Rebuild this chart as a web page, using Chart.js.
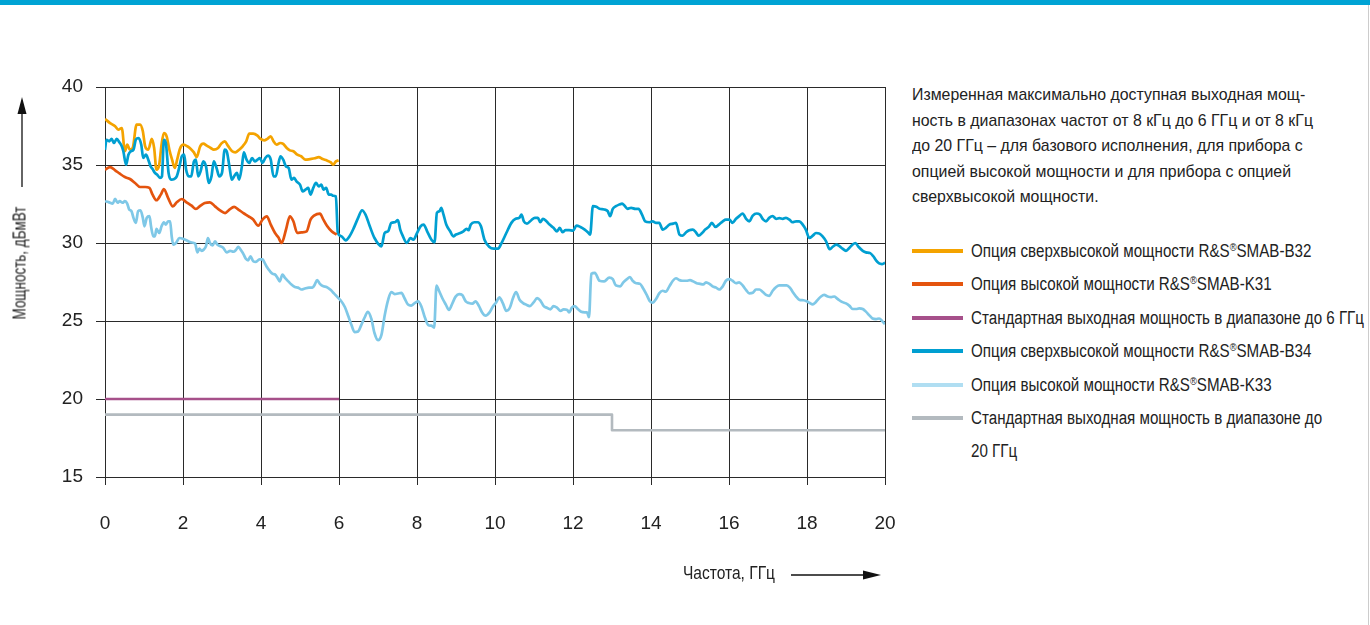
<!DOCTYPE html>
<html lang="ru">
<head>
<meta charset="utf-8">
<script src="https://cdn.jsdelivr.net/npm/chart.js@4.4.1/dist/chart.umd.min.js"></script>
<style>
  html, body { margin: 0; padding: 0; background: #fff; }
  body { width: 1370px; height: 625px; position: relative; overflow: hidden;
         font-family: "Liberation Sans", Arial, sans-serif; color: #222; }
  #topbar { position: absolute; left: 0; top: 0; width: 1370px; height: 5px; background: #00a3d4; }
  #edge { position: absolute; left: 1368px; top: 5px; width: 1px; height: 620px; background: #ccc; }
  #chartWrap { position: absolute; left: 0; top: 0; width: 900px; height: 625px; }
  #note { position: absolute; left: 912px; top: 82px; font-size: 17px; line-height: 25.5px; white-space: nowrap;
          transform-origin: 0 0; }
  #legend { position: absolute; left: 912px; top: 236px; font-size: 18px; }
  #legend .item { position: relative; height: 33.4px; line-height: 30px; white-space: nowrap; }
  #legend .sw { position: absolute; left: 0; top: 13px; width: 51px; height: 4px; }
  #legend .txt { position: absolute; left: 59px; top: 0; transform-origin: 0 50%; }
  #legend sup { font-size: 11px; vertical-align: 6px; line-height: 0; }
  .ytitle { position: absolute; left: 20px; top: 263px; font-size: 17.5px; white-space: nowrap; }
  .xtitle { position: absolute; left: 683px; top: 563px; font-size: 17.5px; white-space: nowrap; transform-origin: 0 0; }
  svg.arr { position: absolute; left: 0; top: 0; }
</style>
</head>
<body>
<div id="topbar"></div>
<div id="edge"></div>
<div id="chartWrap"><canvas id="powerChart" width="900" height="625"></canvas></div>

<div class="ytitle" id="ytitle">Мощность, дБмВт</div>
<div class="xtitle" id="xtitle">Частота, ГГц</div>
<svg class="arr" width="900" height="625">
  <line x1="22" y1="112" x2="22" y2="187" stroke="#111" stroke-width="1.3"/>
  <polygon points="22,97 17.5,114 26.5,114" fill="#111"/>
  <line x1="791" y1="575" x2="866" y2="575" stroke="#111" stroke-width="1.3"/>
  <polygon points="881,575 863,570.5 863,579.5" fill="#111"/>
</svg>

<div id="note">Измеренная максимально доступная выходная мощ-<br>ность в диапазонах частот от 8 кГц до 6 ГГц и от 8 кГц<br>до 20 ГГц – для базового исполнения, для прибора с<br>опцией высокой мощности и для прибора с опцией<br>сверхвысокой мощности.</div>

<div id="legend"></div>

<script>
// frequency in GHz, power in dBm
const xTicks = [0, 2, 4, 6, 8, 10, 12, 14, 16, 18, 20];
const yTicks = [15, 20, 25, 30, 35, 40];

const smabB32 = [[0,37.95],[0.13,37.69],[0.26,37.48],[0.34,37.26],[0.43,37.37],[0.51,35.88],[0.57,36.3],[0.64,35.98],[0.71,36.09],[0.81,37.59],[0.9,37.59],[0.97,37.16],[1.03,36.2],[1.11,35.98],[1.2,36.67],[1.26,36.09],[1.32,34.7],[1.39,35.02],[1.45,36.3],[1.51,37.05],[1.58,36.84],[1.65,35.98],[1.72,35.34],[1.79,34.81],[1.85,35.34],[1.92,36.03],[2.01,36.3],[2.11,36.2],[2.2,36.03],[2.28,35.81],[2.35,35.51],[2.44,36.2],[2.52,36.37],[2.61,36.24],[2.71,36.09],[2.79,35.98],[2.9,36.09],[2.98,36.37],[3.07,36.52],[3.15,36.24],[3.26,35.88],[3.34,35.81],[3.44,35.98],[3.53,36.2],[3.62,36.52],[3.7,37.01],[3.8,37.01],[3.91,36.88],[3.99,36.67],[4.08,36.58],[4.16,36.67],[4.25,36.84],[4.32,36.52],[4.4,36.3],[4.49,36.41],[4.57,36.35],[4.66,36.09],[4.74,35.94],[4.83,35.88],[4.93,35.66],[5.03,35.56],[5.14,35.34],[5.26,35.38],[5.38,35.43],[5.48,35.51],[5.58,35.38],[5.68,35.3],[5.79,35.17],[5.85,35.02],[5.92,35.23],[5.99,35.3]];

const smabK31 = [[0,34.7],[0.13,34.87],[0.26,34.66],[0.38,34.44],[0.51,34.23],[0.64,34.1],[0.77,33.85],[0.9,33.59],[1.03,33.59],[1.14,33.53],[1.22,33.1],[1.32,32.74],[1.43,33.1],[1.51,33.46],[1.62,32.88],[1.74,32.35],[1.84,32.61],[1.97,32.82],[2.09,32.61],[2.22,32.39],[2.33,32.18],[2.45,32.39],[2.56,32.56],[2.69,32.61],[2.82,32.35],[2.95,32.09],[3.08,31.92],[3.19,32.14],[3.31,32.31],[3.42,32.14],[3.55,31.92],[3.68,31.71],[3.8,31.5],[3.93,31.11],[4.04,31.5],[4.15,31.71],[4.25,31.18],[4.36,30.64],[4.44,30.38],[4.53,30.0],[4.64,30.85],[4.74,31.71],[4.83,31.39],[4.93,30.64],[5.04,30.68],[5.17,30.75],[5.27,31.5],[5.36,31.75],[5.51,31.88],[5.6,31.5],[5.7,31.07],[5.81,30.75],[5.94,30.53]];

const std6GHz = [[0,20],[6,20]];

const smabB34 = [[0,35.98],[0.04,36.62],[0.11,36.52],[0.17,36.67],[0.23,36.41],[0.3,36.67],[0.37,36.45],[0.43,36.2],[0.47,35.88],[0.54,35.02],[0.6,35.66],[0.66,35.88],[0.73,35.98],[0.79,36.62],[0.86,36.73],[0.93,36.3],[0.98,35.45],[1.05,35.66],[1.11,35.34],[1.17,34.91],[1.22,34.74],[1.28,34.49],[1.34,34.38],[1.41,34.17],[1.46,34.27],[1.51,36.62],[1.56,36.41],[1.63,34.49],[1.7,34.06],[1.77,34.1],[1.84,34.27],[1.91,34.91],[1.97,35.56],[2.03,35.66],[2.08,34.7],[2.15,34.27],[2.21,34.27],[2.28,35.23],[2.33,35.34],[2.39,34.27],[2.45,34.59],[2.52,35.23],[2.59,34.91],[2.66,33.85],[2.73,34.27],[2.79,35.23],[2.86,34.81],[2.93,34.27],[3.0,34.49],[3.07,35.98],[3.12,35.88],[3.19,34.91],[3.25,34.06],[3.31,34.27],[3.38,34.49],[3.44,34.06],[3.51,34.91],[3.56,35.81],[3.63,35.34],[3.7,35.13],[3.77,35.45],[3.84,35.23],[3.91,35.34],[3.97,35.45],[4.04,35.13],[4.11,35.45],[4.18,35.6],[4.25,35.34],[4.32,34.27],[4.38,34.27],[4.45,35.13],[4.5,35.56],[4.57,35.34],[4.64,34.91],[4.71,34.81],[4.78,34.06],[4.85,34.17],[4.91,33.95],[5.0,33.74],[5.07,33.31],[5.14,33.42],[5.21,33.53],[5.27,33.1],[5.34,33.53],[5.41,33.85],[5.48,33.63],[5.55,33.74],[5.6,33.42],[5.67,33.53],[5.74,33.1],[5.8,33.1],[5.85,33.03],[5.92,32.99],[5.97,30.64],[6.06,30.43],[6.17,30.17],[6.27,30.43],[6.38,30.97],[6.49,31.61],[6.59,32.1],[6.68,31.82],[6.79,31.07],[6.91,30.32],[7.09,29.79],[7.17,30.64],[7.26,30.75],[7.34,31.29],[7.43,31.33],[7.51,31.46],[7.57,30.86],[7.64,30.43],[7.74,30.0],[7.83,30.32],[7.91,30.21],[8.0,30.64],[8.09,31.07],[8.17,31.18],[8.26,30.75],[8.37,30.21],[8.45,30.04],[8.51,31.93],[8.58,32.04],[8.62,32.25],[8.68,31.82],[8.75,31.18],[8.85,30.75],[8.93,30.43],[9.0,30.54],[9.11,30.64],[9.19,30.75],[9.27,30.9],[9.32,30.82],[9.38,31.18],[9.47,31.33],[9.56,31.33],[9.64,31.07],[9.73,30.21],[9.85,29.76],[9.97,29.64],[10.08,29.64],[10.16,29.96],[10.29,30.64],[10.42,31.29],[10.53,31.55],[10.62,31.61],[10.68,31.82],[10.74,31.39],[10.82,31.24],[10.93,31.46],[11.02,31.61],[11.1,31.61],[11.16,31.33],[11.23,31.55],[11.32,31.39],[11.4,31.18],[11.5,30.97],[11.59,30.75],[11.66,30.97],[11.73,30.69],[11.81,30.82],[11.9,30.82],[12.0,30.79],[12.09,31.12],[12.19,31.03],[12.3,30.86],[12.38,30.69],[12.44,30.54],[12.51,32.36],[12.6,32.32],[12.68,32.19],[12.8,32.15],[12.89,32.04],[12.95,31.72],[13.02,32.19],[13.1,32.36],[13.19,32.47],[13.26,32.53],[13.32,32.4],[13.4,32.19],[13.49,32.25],[13.6,32.19],[13.68,32.19],[13.77,31.82],[13.85,31.39],[13.96,31.33],[14.04,31.39],[14.13,31.29],[14.21,31.29],[14.3,30.86],[14.38,30.97],[14.47,31.18],[14.57,31.24],[14.64,31.29],[14.73,30.54],[14.81,30.47],[14.9,30.69],[14.98,30.82],[15.07,30.86],[15.15,30.69],[15.22,30.47],[15.31,30.64],[15.39,30.86],[15.48,31.03],[15.56,31.29],[15.65,31.03],[15.74,31.18],[15.84,31.39],[15.92,31.5],[16.01,31.5],[16.09,31.29],[16.18,31.55],[16.26,31.72],[16.35,31.89],[16.44,31.55],[16.52,31.39],[16.61,31.76],[16.71,31.89],[16.79,31.82],[16.88,31.5],[16.95,31.39],[17.03,31.61],[17.12,31.72],[17.21,31.55],[17.29,31.59],[17.38,31.55],[17.46,31.61],[17.55,31.5],[17.63,31.33],[17.72,31.39],[17.8,31.39],[17.89,31.18],[17.97,30.86],[18.06,30.32],[18.15,30.47],[18.23,30.64],[18.32,30.6],[18.4,30.43],[18.49,30.11],[18.58,29.6],[18.66,29.76],[18.75,29.9],[18.83,29.8],[18.91,29.64],[19.0,29.5],[19.09,29.7],[19.17,29.9],[19.24,30.0],[19.32,29.76],[19.43,29.5],[19.51,29.4],[19.62,29.35],[19.7,29.15],[19.77,28.89],[19.85,28.69],[19.92,28.65],[20.0,28.73]];

const smabK33 = [[0,32.68],[0.09,32.62],[0.2,32.53],[0.26,32.83],[0.32,32.58],[0.38,32.68],[0.45,32.58],[0.51,32.68],[0.57,32.53],[0.62,32.15],[0.68,32.04],[0.73,31.61],[0.79,31.29],[0.85,32.04],[0.91,32.1],[0.97,31.61],[1.01,31.07],[1.07,31.61],[1.14,31.72],[1.18,31.07],[1.24,30.43],[1.28,30.43],[1.32,30.9],[1.39,30.64],[1.45,31.07],[1.51,31.33],[1.56,31.18],[1.62,31.39],[1.67,31.39],[1.71,30.43],[1.75,29.9],[1.82,30.0],[1.91,30.32],[2.01,30.26],[2.11,30.15],[2.2,30.04],[2.31,29.96],[2.37,29.4],[2.42,29.64],[2.48,29.5],[2.54,29.6],[2.59,29.8],[2.64,30.32],[2.69,30.0],[2.76,29.84],[2.82,30.11],[2.88,29.9],[2.95,29.8],[3.03,29.7],[3.12,29.4],[3.21,29.5],[3.29,29.44],[3.36,29.56],[3.42,29.76],[3.48,29.56],[3.55,29.29],[3.61,28.99],[3.67,28.89],[3.73,29.15],[3.8,28.83],[3.87,28.79],[3.96,28.95],[4.04,28.95],[4.1,28.69],[4.16,28.43],[4.23,28.19],[4.3,28.02],[4.36,27.98],[4.42,27.78],[4.48,27.54],[4.55,27.98],[4.61,27.78],[4.7,27.54],[4.78,27.34],[4.87,27.18],[4.95,27.14],[5.04,27.02],[5.12,27.08],[5.23,27.14],[5.32,27.14],[5.38,27.34],[5.44,27.62],[5.51,27.38],[5.6,27.22],[5.68,27.18],[5.79,26.98],[5.87,26.77],[5.96,26.53],[6.04,26.33],[6.15,25.9],[6.24,25.3],[6.32,24.74],[6.4,24.29],[6.49,24.33],[6.57,24.74],[6.66,25.24],[6.74,25.59],[6.83,25.14],[6.91,24.23],[7.0,23.77],[7.09,24.13],[7.17,25.34],[7.26,26.36],[7.34,26.86],[7.43,26.72],[7.51,26.76],[7.6,26.8],[7.68,26.46],[7.77,26.05],[7.85,25.99],[7.94,26.15],[8.03,26.26],[8.11,25.95],[8.2,25.24],[8.29,24.74],[8.37,24.7],[8.44,24.57],[8.5,27.27],[8.56,26.96],[8.65,26.46],[8.74,26.05],[8.82,25.71],[8.91,26.15],[8.99,26.56],[9.08,26.72],[9.16,26.66],[9.25,26.26],[9.33,26.15],[9.42,26.11],[9.5,26.26],[9.59,25.95],[9.67,25.55],[9.76,25.34],[9.86,25.55],[9.95,25.95],[10.03,26.19],[10.11,26.52],[10.2,26.15],[10.29,25.65],[10.38,25.85],[10.46,26.46],[10.54,26.86],[10.63,26.36],[10.72,26.15],[10.8,26.05],[10.89,25.95],[10.99,26.19],[11.08,26.46],[11.16,26.32],[11.25,25.95],[11.33,25.85],[11.42,25.75],[11.5,25.95],[11.59,25.85],[11.68,25.65],[11.76,25.75],[11.85,25.71],[11.9,25.55],[11.97,25.85],[12.04,25.95],[12.13,25.75],[12.21,25.59],[12.3,25.55],[12.36,25.55],[12.41,25.24],[12.47,28.02],[12.56,28.08],[12.68,27.58],[12.8,27.54],[12.93,27.78],[13.02,27.68],[13.1,27.28],[13.21,27.22],[13.29,27.48],[13.38,27.68],[13.46,27.82],[13.53,27.58],[13.62,27.42],[13.72,27.38],[13.8,27.08],[13.89,26.67],[13.97,26.27],[14.04,26.17],[14.13,26.41],[14.21,26.77],[14.3,26.94],[14.38,26.88],[14.47,27.22],[14.56,27.58],[14.64,27.74],[14.73,27.62],[14.81,27.58],[14.91,27.58],[15.0,27.62],[15.08,27.54],[15.17,27.42],[15.26,27.38],[15.34,27.34],[15.41,27.48],[15.5,27.38],[15.58,27.22],[15.67,27.14],[15.75,27.02],[15.84,27.22],[15.92,27.58],[16.01,27.68],[16.09,27.58],[16.18,27.42],[16.26,27.48],[16.35,27.28],[16.44,26.98],[16.52,26.77],[16.61,26.81],[16.69,27.02],[16.78,27.02],[16.86,26.88],[16.95,26.67],[17.03,26.61],[17.12,26.94],[17.21,27.18],[17.29,27.28],[17.38,27.28],[17.48,27.28],[17.56,27.14],[17.63,26.88],[17.72,26.57],[17.8,26.37],[17.91,26.33],[17.99,26.27],[18.06,26.17],[18.15,26.07],[18.21,26.17],[18.28,26.37],[18.36,26.57],[18.44,26.67],[18.53,26.57],[18.62,26.53],[18.7,26.57],[18.76,26.47],[18.83,26.33],[18.91,26.21],[19.0,26.13],[19.09,25.97],[19.17,25.77],[19.26,25.77],[19.34,25.81],[19.43,25.77],[19.51,25.6],[19.6,25.36],[19.68,25.16],[19.77,25.12],[19.85,25.16],[19.94,24.96],[20.0,24.8]];

const std20GHz = [[0,19],[13,19],[13,18],[20,18]];

const seriesNames = [
  'Опция сверхвысокой мощности R&S<sup>®</sup>SMAB-B32',
  'Опция высокой мощности R&S<sup>®</sup>SMAB-K31',
  'Стандартная выходная мощность в диапазоне до 6 ГГц',
  'Опция сверхвысокой мощности R&S<sup>®</sup>SMAB-B34',
  'Опция высокой мощности R&S<sup>®</sup>SMAB-K33',
  'Стандартная выходная мощность в диапазоне до'
];
const seriesColors = ['#f4a300', '#e4540e', '#a6508a', '#009fd1', '#7fc8e7', '#b3babf'];
const swatchColors = ['#f4a300', '#e4540e', '#a6508a', '#009fd1', '#b0def2', '#b3babf'];
const seriesData = [smabB32, smabK31, std6GHz, smabB34, smabK33, std20GHz];
const drawOrder = [5, 2, 4, 3, 1, 0];

const FONT = '"Liberation Sans", Arial, sans-serif';

const toPoints = arr => arr.map(p => ({ x: p[0], y: p[1] }));

const datasets = seriesData.map((d, i) => {
  const isStep = (i === 2 || i === 5);
  return {
    label: seriesNames[i],
    data: toPoints(d),
    borderColor: seriesColors[i],
    borderWidth: isStep ? 2.6 : 2.7,
    order: drawOrder[i],
    pointRadius: 0,
    tension: 0,
    cubicInterpolationMode: isStep ? 'default' : 'monotone',
    fill: false
  };
});

const ctx = document.getElementById('powerChart').getContext('2d');
new Chart(ctx, {
  type: 'line',
  data: { datasets: datasets },
  options: {
    responsive: false,
    animation: false,
    layout: { padding: { left: 0, top: 87, right: 15, bottom: 88 } },
    plugins: { legend: { display: false }, tooltip: { enabled: false } },
    elements: { line: { borderJoinStyle: 'round', borderCapStyle: 'butt' } },
    scales: {
      x: {
        type: 'linear', min: 0, max: 20,
        afterBuildTicks: s => { s.ticks = xTicks.map(v => ({ value: v })); },
        afterFit: s => { s.height = 60; s.paddingLeft = 0; s.paddingRight = 0; },
        ticks: { padding: 27, color: '#222', font: { family: FONT, size: 19 } },
        grid: { color: '#2a2a2a', lineWidth: 1, tickLength: 8 },
        border: { color: '#2a2a2a' }
      },
      y: {
        type: 'linear', min: 15, max: 40,
        afterBuildTicks: s => { s.ticks = yTicks.map(v => ({ value: v })); },
        afterFit: s => { s.width = 105; s.paddingTop = 0; s.paddingBottom = 0; },
        ticks: { padding: 13, color: '#222', font: { family: FONT, size: 19 } },
        grid: { color: '#2a2a2a', lineWidth: 1, tickLength: 9 },
        border: { color: '#2a2a2a' }
      }
    }
  }
});

// legend on the right
const legend = document.getElementById('legend');
seriesNames.forEach((name, i) => {
  const item = document.createElement('div');
  item.className = 'item';
  item.innerHTML = '<span class="sw" style="background:' + swatchColors[i] + '"></span><span class="txt">' + name + '</span>';
  legend.appendChild(item);
});
const wrap = document.createElement('div');
wrap.className = 'item';
wrap.innerHTML = '<span class="txt">20 ГГц</span>';
legend.appendChild(wrap);

// the original uses a condensed face: squeeze the text horizontally to its widths
const legendTexts = legend.querySelectorAll('.txt');
const k = 393 / legendTexts[2].getBoundingClientRect().width;
legendTexts.forEach(t => { t.style.transform = 'scaleX(' + k + ')'; });

const note = document.getElementById('note');
note.style.transform = 'scaleX(' + (401 / note.getBoundingClientRect().width) + ')';

const xt = document.getElementById('xtitle');
xt.style.transform = 'scaleX(' + (92 / xt.getBoundingClientRect().width) + ')';

const yt = document.getElementById('ytitle');
const yw = yt.getBoundingClientRect().width;
yt.style.transform = 'translate(-50%, -50%) rotate(-90deg) scaleX(' + (113 / yw) + ')';
</script>
</body>
</html>
